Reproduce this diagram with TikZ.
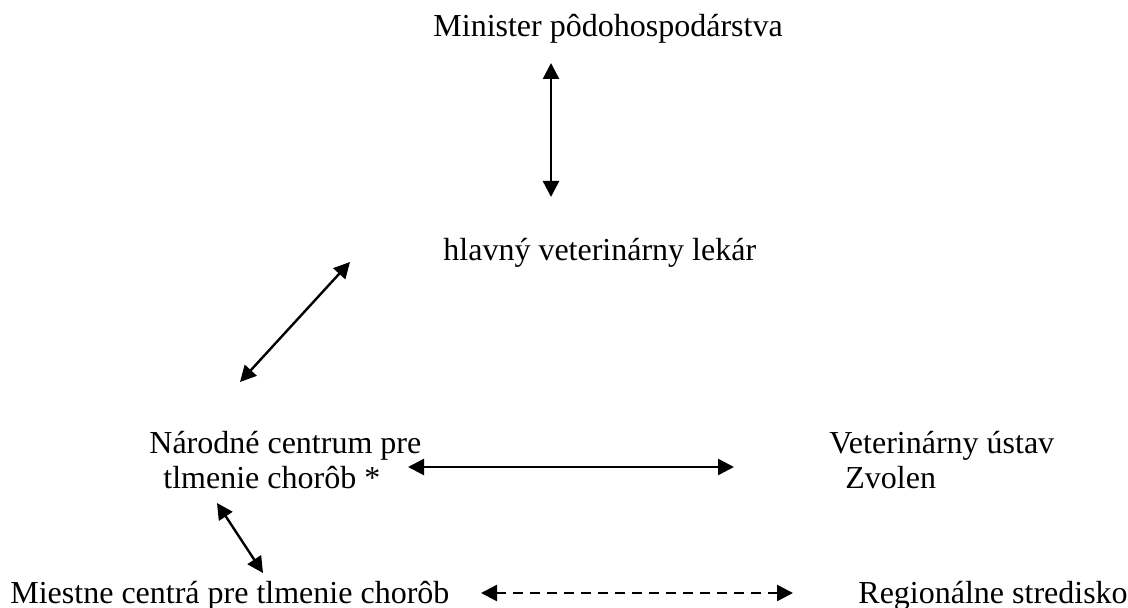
\documentclass[tikz,border=0pt]{standalone}
\usepackage{fontspec}
\setmainfont{Liberation Serif}
\usetikzlibrary{arrows.meta}
\begin{document}
\begin{tikzpicture}[x=0.5pt,y=-0.5pt,
  lbl/.style={anchor=base west,inner sep=0pt,font=\fontsize{16}{18}\selectfont},
  link/.style={line width=1.2pt,{Triangle[length=8pt,width=8pt]}-{Triangle[length=8pt,width=8pt]}},
  dlink/.style={link,dash pattern=on 5pt off 3.5pt}]
\useasboundingbox[fill=white] (0,0) rectangle (1128,608);
\node[lbl] (min) at (433,37) {Minister pôdohospodárstva};
\node[lbl] (hvl) at (443,261) {hlavný veterinárny lekár};
\node[lbl] (nc1) at (149,453) {Národné centrum pre};
\node[lbl] (nc2) at (163,488) {tlmenie chorôb *};
\node[lbl] (vu1) at (829,453) {Veterinárny ústav};
\node[lbl] (vu2) at (845,488) {Zvolen};
\node[lbl] (mc) at (10,603) {Miestne centrá pre tlmenie chorôb};
\node[lbl] (rs) at (858,603) {Regionálne stredisko};
\coordinate (a1) at (551,63);
\coordinate (a2) at (551,197);
\coordinate (b1) at (350,262);
\coordinate (b2) at (240,382);
\coordinate (c1) at (408,467);
\coordinate (c2) at (734,467);
\coordinate (d1) at (217,503);
\coordinate (d2) at (263,573);
\coordinate (e1) at (481,593);
\coordinate (e2) at (793,593);
\draw[link] (a1) -- (a2);
\draw[link] (b1) -- (b2);
\draw[link] (c1) -- (c2);
\draw[link] (d1) -- (d2);
\draw[dlink] (e1) -- (e2);
\end{tikzpicture}
\end{document}
